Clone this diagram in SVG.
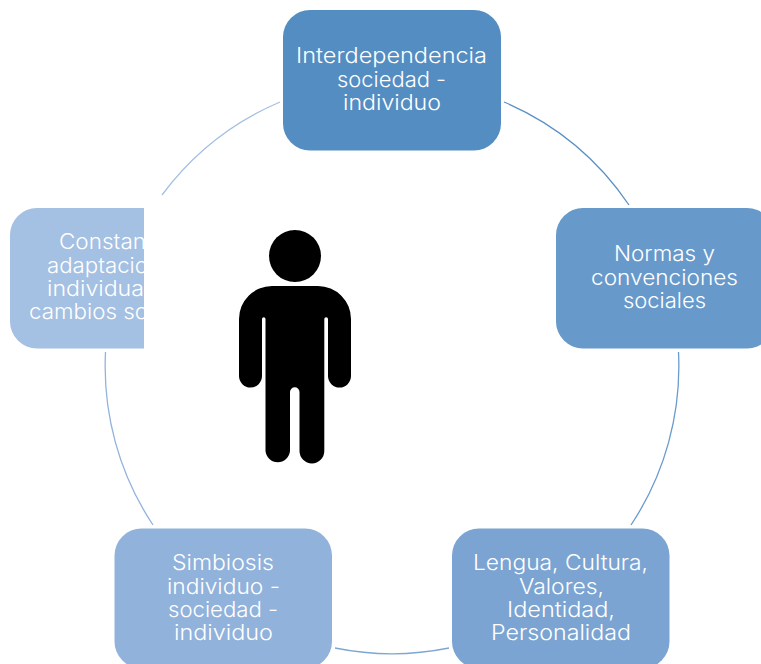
<svg xmlns="http://www.w3.org/2000/svg" width="761" height="664" viewBox="0 0 761 664">
<style>
.node-text{font-family:"Inter","Open Sans","DejaVu Sans",sans-serif;font-size:21px;font-weight:300;fill:#fff}
.arc{fill:none;stroke-width:1.3}
</style>
<defs><clipPath id="cut"><rect x="0" y="200" width="144" height="160"/></clipPath></defs>
<rect width="761" height="664" fill="#fff"/>
<g id="connectors">
<path class="arc" stroke="#5a90c5" d="M504 102A287 287 0 0 1 629 205"/>
<path class="arc" stroke="#6a9bcd" d="M678.500 352A287 287 0 0 1 631 525"/>
<path class="arc" stroke="#7da6d3" d="M449 648A287 287 0 0 1 335 648"/>
<path class="arc" stroke="#92b3dc" d="M153 525A287 287 0 0 1 105.500 352"/>
<path class="arc" stroke="#a5c0e2" d="M162 195A287 287 0 0 1 280 102"/>
</g>
<g id="node-interdependencia">
<rect x="283" y="10" width="218" height="140.500" rx="27" fill="#548dc2"/>
<text class="node-text" x="296" y="63" textLength="191" lengthAdjust="spacingAndGlyphs">Interdependencia</text>
<text class="node-text" x="337" y="87" textLength="109" lengthAdjust="spacingAndGlyphs">sociedad -</text>
<text class="node-text" x="343" y="110" textLength="98" lengthAdjust="spacingAndGlyphs">individuo</text>
</g>
<g id="node-normas">
<rect x="556" y="208" width="218" height="140.500" rx="27" fill="#6799cb"/>
<text class="node-text" x="614" y="261" textLength="101" lengthAdjust="spacingAndGlyphs">Normas y</text>
<text class="node-text" x="591" y="285" textLength="147" lengthAdjust="spacingAndGlyphs">convenciones</text>
<text class="node-text" x="623" y="308" textLength="83" lengthAdjust="spacingAndGlyphs">sociales</text>
</g>
<g id="node-lengua">
<rect x="452" y="528.500" width="217.500" height="140" rx="27" fill="#7ba4d2"/>
<text class="node-text" x="473" y="570" textLength="175" lengthAdjust="spacingAndGlyphs">Lengua, Cultura,</text>
<text class="node-text" x="519" y="594" textLength="85" lengthAdjust="spacingAndGlyphs">Valores,</text>
<text class="node-text" x="507" y="617" textLength="108" lengthAdjust="spacingAndGlyphs">Identidad,</text>
<text class="node-text" x="491" y="640" textLength="140" lengthAdjust="spacingAndGlyphs">Personalidad</text>
</g>
<g id="node-simbiosis">
<rect x="114.500" y="528.500" width="217.500" height="140" rx="27" fill="#91b2db"/>
<text class="node-text" x="172" y="570" textLength="102" lengthAdjust="spacingAndGlyphs">Simbiosis</text>
<text class="node-text" x="167" y="594" textLength="113" lengthAdjust="spacingAndGlyphs">individuo -</text>
<text class="node-text" x="168" y="617" textLength="110" lengthAdjust="spacingAndGlyphs">sociedad -</text>
<text class="node-text" x="174" y="640" textLength="99" lengthAdjust="spacingAndGlyphs">individuo</text>
</g>
<g id="node-constante">
<g clip-path="url(#cut)">
<rect x="10" y="208" width="218" height="140.500" rx="27" fill="#a4c0e2"/>
<text class="node-text" x="59" y="249" textLength="87" lengthAdjust="spacingAndGlyphs">Constan</text>
<text class="node-text" x="47" y="272.500" textLength="101" lengthAdjust="spacingAndGlyphs">adaptacio</text>
<text class="node-text" x="47" y="296" textLength="97" lengthAdjust="spacingAndGlyphs">individua</text>
<text class="node-text" x="29" y="319" textLength="119" lengthAdjust="spacingAndGlyphs">cambios so</text>
</g>
</g>
<g id="node-person">
<circle cx="295" cy="256" r="26"/>
<path d="M272 286H318A33 33 0 0 1 351 319V376A11.500 11.500 0 0 1 328 376V319A1.500 1.500 0 0 0 324.300 319V451A12.300 12.300 0 0 1 299.500 451V392A4.700 4.700 0 0 0 290 392V451A12.300 12.300 0 0 1 265.500 451V319A1.500 1.500 0 0 0 262 319V376A11.500 11.500 0 0 1 239 376V319A33 33 0 0 1 272 286Z"/>
</g>
</svg>
